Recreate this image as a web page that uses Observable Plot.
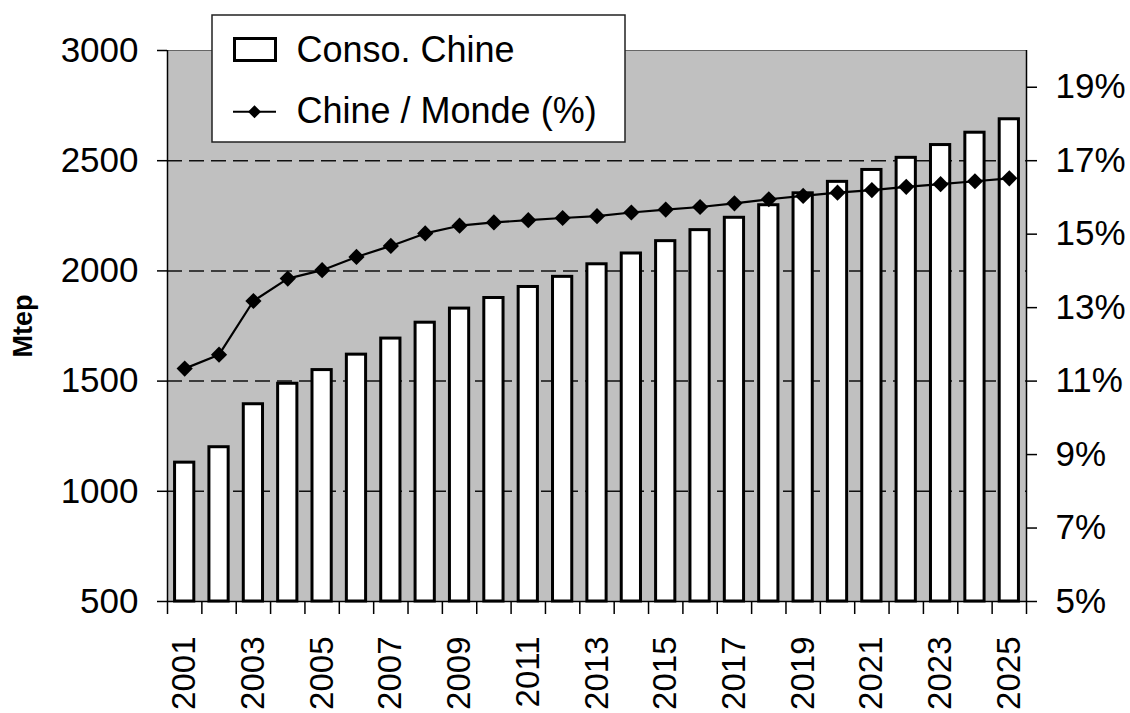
<!DOCTYPE html>
<html>
<head>
<meta charset="utf-8">
<script src="https://cdn.jsdelivr.net/npm/d3@7"></script>
<script src="https://cdn.jsdelivr.net/npm/@observablehq/plot@0.6"></script>
<style>
  html, body { margin: 0; padding: 0; background: #fff; }
  #wrap { position: relative; width: 1130px; height: 713px; font-family: 'Liberation Sans', Arial, sans-serif; }
  #legend { position: absolute; left: 211px; top: 14px; }
</style>
</head>
<body>
<div id="wrap"></div>
<script>
// ---- data ----
const years = [2001, 2002, 2003, 2004, 2005, 2006, 2007, 2008, 2009, 2010, 2011, 2012, 2013,
               2014, 2015, 2016, 2017, 2018, 2019, 2020, 2021, 2022, 2023, 2024, 2025];
const conso = [1130, 1200, 1395, 1488, 1550, 1620, 1693, 1765, 1829, 1877, 1927, 1973, 2030,
               2079, 2135, 2185, 2241, 2298, 2352, 2404, 2458, 2513, 2571, 2627, 2688];
const share = [11.34, 11.72, 13.18, 13.79, 14.02, 14.38, 14.68, 15.02, 15.23, 15.32, 15.38, 15.44, 15.49,
               15.59, 15.67, 15.74, 15.84, 15.95, 16.04, 16.13, 16.20, 16.29, 16.36, 16.44, 16.52];
const leftTicks = [500, 1000, 1500, 2000, 2500, 3000];
const gridValues = [1000, 1500, 2000, 2500];
const rightTicks = [5, 7, 9, 11, 13, 15, 17, 19];
const labelYears = [2001, 2003, 2005, 2007, 2009, 2011, 2013, 2015, 2017, 2019, 2021, 2023, 2025];
const seriesNames = ["Conso. Chine", "Chine / Monde (%)"];
const axisTitle = "Mtep";

// ---- scales ----
const yDomain = [500, 3000];
const pctDomain = [5, 20];
const pctToY = p => yDomain[0] + (p - pctDomain[0]) / (pctDomain[1] - pctDomain[0]) * (yDomain[1] - yDomain[0]);
const yToPct = v => pctDomain[0] + (v - yDomain[0]) / (yDomain[1] - yDomain[0]) * (pctDomain[1] - pctDomain[0]);
const xDomain = [years[0] - 0.5, years[years.length - 1] + 0.5];
const boundaries = years.map(y => y - 0.5).concat([years[years.length - 1] + 0.5]);
const halfBar = 0.28;

const data = years.map((year, i) => ({year, conso: conso[i], share: share[i]}));

const chart = Plot.plot({
  width: 1130,
  height: 713,
  marginLeft: 167,
  marginRight: 104,
  marginTop: 50,
  marginBottom: 112,
  style: {fontFamily: "'Liberation Sans', Arial, sans-serif", fontSize: "35px", color: "#000", background: "#fff", overflow: "visible"},
  x: {type: "linear", domain: xDomain},
  y: {domain: yDomain},
  marks: [
    Plot.frame({fill: "#c0c0c0", stroke: "#666", strokeWidth: 1}),
    Plot.ruleY(gridValues, {stroke: "#111", strokeWidth: 1.5, strokeDasharray: "15,7"}),
    Plot.rect(data, {x1: d => d.year - halfBar, x2: d => d.year + halfBar, y1: yDomain[0], y2: "conso",
                     fill: "#fff", stroke: "#000", strokeWidth: 3}),
    Plot.line(data, {x: "year", y: d => pctToY(d.share), stroke: "#000", strokeWidth: 2.2}),
    Plot.dot(data, {x: "year", y: d => pctToY(d.share), symbol: "diamond2", r: 7.3, fill: "#000", stroke: null}),
    Plot.ruleX(xDomain, {stroke: "#000", strokeWidth: 1.5}),
    Plot.ruleY([yDomain[0]], {stroke: "#000", strokeWidth: 1.5}),
    Plot.axisY({anchor: "left", ticks: leftTicks, tickSize: 10, tickPadding: 19, strokeWidth: 1.5, label: null, tickFormat: d => String(d)}),
    Plot.axisY({anchor: "right", ticks: rightTicks.map(pctToY), tickSize: 10, tickPadding: 19, strokeWidth: 1.5, label: null,
                tickFormat: v => Math.round(yToPct(v)) + "%"}),
    Plot.axisX({ticks: boundaries, tickSize: 13, strokeWidth: 1.5, tickFormat: () => "", label: null}),
    Plot.axisX({ticks: labelYears, tickSize: 0, tickPadding: 35, tickRotate: -90, fontSize: 33, label: null, tickFormat: d => String(d)}),
    Plot.text([axisTitle], {frameAnchor: "left", dx: -144, rotate: -90, textAnchor: "middle", fontWeight: "bold", fontSize: 27, fill: "#000"})
  ]
});

const wrap = document.getElementById("wrap");
wrap.appendChild(chart);

// ---- legend (overlaid inside the plot area, as in the reference) ----
const ns = "http://www.w3.org/2000/svg";
const leg = document.createElementNS(ns, "svg");
leg.setAttribute("id", "legend");
leg.setAttribute("width", 416);
leg.setAttribute("height", 130);
leg.setAttribute("font-family", "'Liberation Sans', Arial, sans-serif");
leg.innerHTML = `
  <rect x="1" y="1" width="413" height="127" fill="#fff" stroke="#222" stroke-width="1.5"></rect>
  <rect x="23.5" y="24.5" width="41" height="22" fill="#fff" stroke="#000" stroke-width="3"></rect>
  <text x="85.5" y="47.7" font-size="36" fill="#000">${seriesNames[0]}</text>
  <line x1="22" x2="65" y1="97.7" y2="97.7" stroke="#000" stroke-width="2"></line>
  <path d="M43.5,91.2 L50,97.7 L43.5,104.2 L37,97.7 Z" fill="#000"></path>
  <text x="85.5" y="108.5" font-size="36" fill="#000">${seriesNames[1]}</text>`;
wrap.appendChild(leg);
</script>
</body>
</html>
